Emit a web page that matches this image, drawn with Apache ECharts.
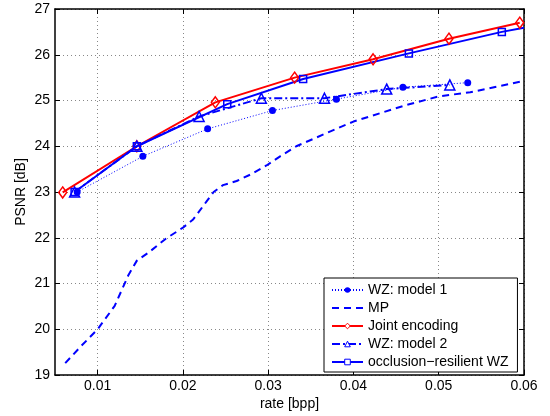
<!DOCTYPE html>
<html>
<head>
<meta charset="utf-8">
<script src="https://cdn.jsdelivr.net/npm/echarts@6/dist/echarts.min.js"></script>
<style>html,body{margin:0;padding:0;background:#fff;}#c{width:550px;height:416px;}</style>
</head>
<body>
<div id="c"></div>
<script>
const xTicks = [0.01, 0.02, 0.03, 0.04, 0.05, 0.06];
const yTicks = [19, 20, 21, 22, 23, 24, 25, 26, 27];

const seriesNames = ['WZ: model 1', 'MP', 'Joint encoding', 'WZ: model 2', 'occlusion\u2212resilient WZ'];

const wz1X = [0.0076, 0.0153, 0.0229, 0.0305, 0.0380, 0.0458, 0.0534];
const wz1Y = [23.0, 23.78, 24.38, 24.78, 25.03, 25.29, 25.39];

const mpX = [0.0062, 0.008, 0.010, 0.012, 0.0136, 0.0146, 0.016, 0.018, 0.020, 0.0212, 0.0228, 0.0236, 0.0247, 0.0263, 0.0279, 0.0298, 0.0314, 0.0333, 0.037, 0.040, 0.046, 0.050, 0.0537, 0.060];
const mpY = [19.26, 19.62, 20.0, 20.51, 21.18, 21.5, 21.68, 21.98, 22.22, 22.4, 22.8, 23.0, 23.15, 23.24, 23.38, 23.58, 23.78, 24.0, 24.3, 24.54, 24.89, 25.09, 25.18, 25.43];

const jointX = [0.0059, 0.0146, 0.0238, 0.0331, 0.0423, 0.0512, 0.0595];
const jointY = [22.99, 24.0, 24.96, 25.5, 25.9, 26.35, 26.70];

const wz2X = [0.0073, 0.0146, 0.0219, 0.0292, 0.0366, 0.0439, 0.0513];
const wz2Y = [23.0, 24.0, 24.65, 25.05, 25.05, 25.25, 25.34];

const occX = [0.0073, 0.0146, 0.0252, 0.0341, 0.0465, 0.0574, 0.0600];
const occY = [23.0, 24.0, 24.92, 25.47, 26.03, 26.5, 26.59];

function pts(xs, ys) { return xs.map((x, i) => [x, ys[i]]); }

const FONT = 'Liberation Sans, Arial, Helvetica, sans-serif';
const axisCommon = {
  type: 'value',
  axisLine: { show: true, onZero: false, lineStyle: { color: '#000', width: 1.5 } },
  axisTick: { show: true, inside: true, length: 5, lineStyle: { color: '#000', width: 1 } },
  splitLine: { show: false },
  axisLabel: { show: false }
};

const chart = echarts.init(document.getElementById('c'), null, { renderer: 'canvas' });
const occData = pts(occX, occY);
occData[occData.length - 1] = { value: occData[occData.length - 1], symbol: 'none' };

const hollow = c => ({ color: '#fff', borderColor: c, borderWidth: 1 });

chart.setOption({
  backgroundColor: '#fff',
  animation: false,
  textStyle: { fontFamily: FONT },
  grid: { left: 55, right: 26, top: 9, bottom: 40 },
  xAxis: [
    Object.assign({}, axisCommon, {
      position: 'bottom', min: 0.005, max: 0.06,
      name: 'rate [bpp]', nameLocation: 'middle', nameGap: 22, nameMoveOverlap: false,
      nameTextStyle: { color: '#000', fontSize: 14, fontFamily: FONT },
      axisTick: { show: true, inside: true, length: 5, customValues: xTicks, lineStyle: { color: '#000', width: 1 } },
      axisLabel: { show: true, customValues: xTicks, color: '#000', fontSize: 14, fontFamily: FONT, margin: 4,
                   formatter: v => String(Math.round(v * 100) / 100) },
      splitLine: { show: true, lineStyle: { color: '#888', width: 1, type: [1, 3] } }
    }),
    Object.assign({}, axisCommon, {
      position: 'top', min: 0.005, max: 0.06,
      axisTick: { show: true, inside: true, length: 5, customValues: xTicks, lineStyle: { color: '#000', width: 1 } },
      axisLabel: { show: false, customValues: xTicks }
    })
  ],
  yAxis: [
    Object.assign({}, axisCommon, {
      position: 'left', min: 19, max: 27, interval: 1,
      name: 'PSNR [dB]', nameLocation: 'middle', nameGap: 27, nameMoveOverlap: false,
      nameTextStyle: { color: '#000', fontSize: 14, fontFamily: FONT },
      axisLabel: { show: true, color: '#000', fontSize: 14, fontFamily: FONT, margin: 5 },
      splitLine: { show: true, lineStyle: { color: '#888', width: 1, type: [1, 3] } }
    }),
    Object.assign({}, axisCommon, {
      position: 'right', min: 19, max: 27, interval: 1
    })
  ],
  legend: {
    orient: 'vertical',
    left: 324, top: 278,
    padding: [5, 9, 3, 7],
    itemGap: 4,
    itemWidth: 31, itemHeight: 7,
    backgroundColor: '#fff',
    borderColor: '#000', borderWidth: 1, borderRadius: 0,
    textStyle: { color: '#000', fontSize: 14, lineHeight: 14, fontFamily: FONT },
    data: [
      { name: seriesNames[0] },
      { name: seriesNames[1], itemStyle: { color: 'rgba(0,0,0,0)', borderWidth: 0, opacity: 0 } },
      { name: seriesNames[2], itemStyle: hollow('#ff0000') },
      { name: seriesNames[3], itemStyle: hollow('#0000ff') },
      { name: seriesNames[4], itemStyle: hollow('#0000ff') }
    ]
  },
  series: [
    {
      name: seriesNames[0], type: 'line', data: pts(wz1X, wz1Y),
      symbol: 'circle', symbolSize: 7,
      itemStyle: { color: '#0000ff' },
      lineStyle: { color: '#0000ff', width: 1, type: [1, 2] }
    },
    {
      name: seriesNames[1], type: 'line', data: pts(mpX, mpY),
      symbol: 'none', smooth: false,
      itemStyle: { color: '#0000ff' },
      lineStyle: { color: '#0000ff', width: 2, type: [7, 5] }
    },
    {
      name: seriesNames[2], type: 'line', data: pts(jointX, jointY),
      symbol: 'diamond', symbolSize: [8, 11],
      itemStyle: { color: 'rgba(255,255,255,0)', borderColor: '#ff0000', borderWidth: 1.5 },
      lineStyle: { color: '#ff0000', width: 2 }
    },
    {
      name: seriesNames[3], type: 'line', data: pts(wz2X, wz2Y),
      symbol: 'triangle', symbolSize: 10,
      itemStyle: { color: 'rgba(255,255,255,0)', borderColor: '#0000ff', borderWidth: 1.5 },
      lineStyle: { color: '#0000ff', width: 2, type: [8, 3, 2, 3] }
    },
    {
      name: seriesNames[4], type: 'line', data: occData,
      symbol: 'rect', symbolSize: 7,
      itemStyle: { color: 'rgba(255,255,255,0)', borderColor: '#0000ff', borderWidth: 1.5 },
      lineStyle: { color: '#0000ff', width: 2 }
    }
  ]
});
</script>
</body>
</html>
